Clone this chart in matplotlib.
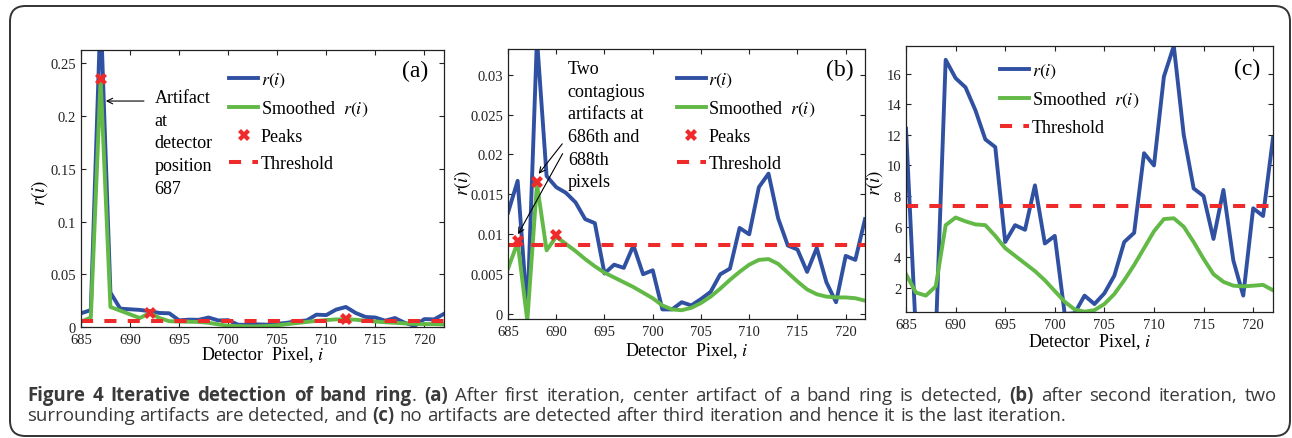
import matplotlib
matplotlib.use('Agg')
import matplotlib.pyplot as plt
from matplotlib.patches import FancyBboxPatch
import numpy as np

plt.rcParams['font.family'] = ['Liberation Serif', 'DejaVu Serif']
plt.rcParams['mathtext.fontset'] = 'stix'

# detector pixel positions
pixels = np.arange(685, 723)

# (a) first iteration
r_a = [0.013, 0.016, 0.30, 0.0326, 0.0174, 0.0168, 0.0162, 0.0150, 0.0133, 0.0130,
       0.0063, 0.0070, 0.0068, 0.0090, 0.0062, 0.0065, 0.0022, 0.0020, 0.0025, 0.0022,
       0.0030, 0.0040, 0.0055, 0.0062, 0.0117, 0.0113, 0.0165, 0.0190, 0.0133, 0.0095,
       0.0090, 0.0060, 0.0085, 0.0040, 0.0010, 0.0075, 0.0072, 0.0125]
smooth_a = [0.005, 0.009, 0.2355, 0.019, 0.0155, 0.012, 0.0085, 0.0133, 0.0085, 0.0055,
            0.0052, 0.0050, 0.0048, 0.0040, 0.0025, 0.0012, 0.0008, 0.0006, 0.0006, 0.0009,
            0.0016, 0.0027, 0.0037, 0.0048, 0.0058, 0.0066, 0.0072, 0.0073, 0.0069, 0.0060,
            0.0052, 0.0045, 0.0040, 0.0034, 0.0030, 0.0028, 0.0027, 0.0025]
peaks_a_x = [687, 692, 712]
peaks_a_y = [0.2355, 0.0133, 0.0073]
thresh_a = 0.0054

# (b) second iteration
r_b = [0.0127, 0.0167, 0.0002, 0.0345, 0.0173, 0.0159, 0.0152, 0.0140, 0.0119, 0.0114,
       0.0051, 0.0062, 0.0058, 0.0086, 0.0050, 0.0055, 0.0006, 0.0006, 0.0015, 0.0011,
       0.0019, 0.0028, 0.0050, 0.0057, 0.0108, 0.0100, 0.0159, 0.0176, 0.0120, 0.0086,
       0.0081, 0.0053, 0.0083, 0.0040, 0.0015, 0.0073, 0.0068, 0.0119]
smooth_b = [0.0057, 0.0090, -0.0008, 0.0163, 0.0080, 0.0097, 0.0088, 0.0079, 0.0069, 0.0060,
            0.0052, 0.0046, 0.0040, 0.0034, 0.0027, 0.0020, 0.0011, 0.0006, 0.0005, 0.0008,
            0.0014, 0.0022, 0.0032, 0.0043, 0.0053, 0.0062, 0.0068, 0.0069, 0.0063, 0.0052,
            0.0041, 0.0031, 0.0025, 0.0022, 0.0021, 0.0021, 0.0020, 0.0017]
peaks_b_x = [686, 688, 690]
peaks_b_y = [0.0092, 0.0165, 0.0099]
thresh_b = 0.0087

# (c) third iteration
r_c = [12.4, -1.0, -1.0, -1.2, 16.9, 15.7, 15.1, 13.6, 11.7, 11.2,
       5.0, 6.1, 5.8, 8.7, 4.9, 5.4, 0.3, 0.35, 1.5, 0.95,
       1.65, 2.8, 5.0, 5.6, 10.8, 10.0, 15.8, 17.8, 12.0, 8.5,
       8.0, 5.2, 8.4, 3.8, 1.5, 7.2, 6.7, 11.8]
smooth_c = [2.9, 1.7, 1.5, 2.1, 6.1, 6.6, 6.35, 6.15, 6.1, 5.4,
            4.6, 4.1, 3.6, 3.1, 2.5, 1.8, 1.1, 0.6, 0.45, 0.55,
            0.95, 1.6, 2.5, 3.5, 4.6, 5.7, 6.5, 6.55, 6.0, 5.0,
            3.9, 2.9, 2.4, 2.15, 2.1, 2.15, 2.2, 1.85]
thresh_c = 7.35

blue = '#3050a2'
green = '#62b946'
red = '#ee2a2a'
serif = ['Liberation Serif', 'DejaVu Serif']

W, H = 1292, 439
fig = plt.figure(figsize=(W / 100, H / 100), dpi=100)


def px_axes(l, t, r, b):
    return fig.add_axes([l / W, 1 - b / H, (r - l) / W, (b - t) / H])


def style_axes(ax, ylim, yticks, yticklabels, ylab_xy, xlab_y):
    ax.set_xlim(685, 722)
    ax.set_ylim(*ylim)
    xt = list(range(685, 721, 5))
    ax.set_xticks(xt)
    ax.set_xticklabels([str(v) for v in xt], fontfamily=serif)
    ax.set_yticks(yticks)
    ax.set_yticklabels(yticklabels, fontfamily=serif)
    ax.tick_params(direction='in', top=True, right=True, length=3.5, width=0.8,
                   labelsize=10.5, colors='#222222')
    ax.tick_params(axis='x', pad=4)
    for s in ax.spines.values():
        s.set_linewidth(0.9)
        s.set_color('#222222')
    ax.set_xlabel('Detector  Pixel, $i$', fontsize=13)
    ax.xaxis.set_label_coords(0.5, xlab_y)
    ax.set_ylabel('$r(i)$', fontsize=13.5)
    ax.yaxis.set_label_coords(*ylab_xy)


def draw_series(ax, r, sm, thr, px=None, py=None):
    ax.plot(pixels, r, color=blue, lw=2.8, label='$r(i)$')
    ax.plot(pixels, sm, color=green, lw=2.8, label='Smoothed  $r(i)$')
    if px is not None:
        ax.plot(px, py, linestyle='none', marker='X', markersize=8, color=red,
                markeredgewidth=0, label='Peaks', zorder=5)
    ln, = ax.plot([685, 722], [thr, thr], color=red, lw=2.9, label='Threshold')
    ln.set_dashes([3.0, 2.8])


def add_legend(ax, x, y):
    ax.legend(loc='upper left', bbox_to_anchor=(x, y), frameon=False, fontsize=13,
              handlelength=1.6, handletextpad=0.15, labelspacing=0.55, borderpad=0,
              borderaxespad=0, numpoints=1)


# panel (a)
ax1 = px_axes(81, 51, 444, 328)
draw_series(ax1, r_a, smooth_a, thresh_a, peaks_a_x, peaks_a_y)
style_axes(ax1, (0, 0.2627), [0, 0.05, 0.1, 0.15, 0.2, 0.25],
           ['0', '0.05', '0.1', '0.15', '0.2', '0.25'], (-0.085, 0.487), -0.062)
add_legend(ax1, 0.408, 0.925)
ax1.text(0.92, 0.925, '(a)', transform=ax1.transAxes, fontsize=17, ha='center', va='center')
ax1.annotate('', xy=(687.25, 0.2143), xytext=(691.7, 0.2143),
             arrowprops=dict(arrowstyle='->', color='black', lw=0.8))
ax1.text(692.5, 0.2255, 'Artifact\nat\ndetector\nposition\n687', fontsize=13,
         va='top', ha='left', linespacing=1.43)

# panel (b)
ax2 = px_axes(508, 50, 865, 320)
draw_series(ax2, r_b, smooth_b, thresh_b, peaks_b_x, peaks_b_y)
style_axes(ax2, (-0.0006, 0.0332), [0, 0.005, 0.01, 0.015, 0.02, 0.025, 0.03],
           ['0', '0.005', '0.01', '0.015', '0.02', '0.025', '0.03'], (-0.098, 0.507), -0.078)
add_legend(ax2, 0.473, 0.918)
ax2.text(0.929, 0.926, '(b)', transform=ax2.transAxes, fontsize=17, ha='center', va='center')
ax2.annotate('', xy=(688.0, 0.0173), xytext=(690.8, 0.0216),
             arrowprops=dict(arrowstyle='->', color='black', lw=0.8))
ax2.annotate('', xy=(685.9, 0.0097), xytext=(690.8, 0.0204),
             arrowprops=dict(arrowstyle='->', color='black', lw=0.8))
ax2.text(691.2, 0.0318, 'Two\ncontagious\nartifacts at\n686th and\n688th\npixels',
         fontsize=13, va='top', ha='left', linespacing=1.43)

# panel (c)
ax3 = px_axes(906, 47, 1273, 313)
draw_series(ax3, r_c, smooth_c, thresh_c)
style_axes(ax3, (0.43, 17.8), list(range(2, 17, 2)),
           [str(v) for v in range(2, 17, 2)], (-0.058, 0.49), -0.072)
add_legend(ax3, 0.256, 0.94)
ax3.text(0.929, 0.914, '(c)', transform=ax3.transAxes, fontsize=17, ha='center', va='center')

# rounded frame around the figure
frame = FancyBboxPatch((10 / W, 1 - 437 / H), 1280 / W, 430 / H,
                       boxstyle='round,pad=0,rounding_size=0.012',
                       transform=fig.transFigure, fill=False, lw=1.4,
                       edgecolor='#333333', mutation_aspect=W / H)
fig.patches.append(frame)

# caption: bold and regular runs, first line justified
cap_font = ['Open Sans', 'DejaVu Sans']
cap_color = '#3a3a3a'
line1 = [('Figure 4 Iterative detection of band ring', 'bold'), ('. ', 'normal'),
         ('(a)', 'bold'), (' After first iteration, center artifact of a band ring is detected, ', 'normal'),
         ('(b)', 'bold'), (' after second iteration, two', 'normal')]
line2 = [('surrounding artifacts are detected, and ', 'normal'), ('(c)', 'bold'),
         (' no artifacts are detected after third iteration and hence it is the last iteration.', 'normal')]

renderer = fig.canvas.get_renderer()


def text_width(s, size, weight):
    t = fig.text(0, 0, s, fontsize=size, fontweight=weight, family=cap_font)
    w = t.get_window_extent(renderer).width
    t.remove()
    return w


def draw_caption_line(runs, x0, y_base, size, x1=None):
    chunks = []
    space_before = False
    for s, w in runs:
        parts = s.split(' ')
        for i, p in enumerate(parts):
            if i > 0:
                space_before = True
            if p:
                chunks.append((p, w, space_before))
                space_before = False
    widths = [text_width(p, size, w) for p, w, _ in chunks]
    space = text_width('a a', size, 'normal') - text_width('aa', size, 'normal')
    n_sp = sum(1 for c in chunks if c[2])
    if x1 is not None and n_sp:
        space = (x1 - x0 - sum(widths)) / n_sp
    x = x0
    for (p, w, sp), wd in zip(chunks, widths):
        if sp:
            x += space
        fig.text(x / W, 1 - y_base / H, p, fontsize=size, fontweight=w,
                 family=cap_font, color=cap_color, va='baseline', ha='left')
        x += wd


cap_size = 13.4
draw_caption_line(line1, 27, 401, cap_size, x1=1277)
draw_caption_line(line2, 27, 421, cap_size)

fig.savefig('out.png', dpi=100)
